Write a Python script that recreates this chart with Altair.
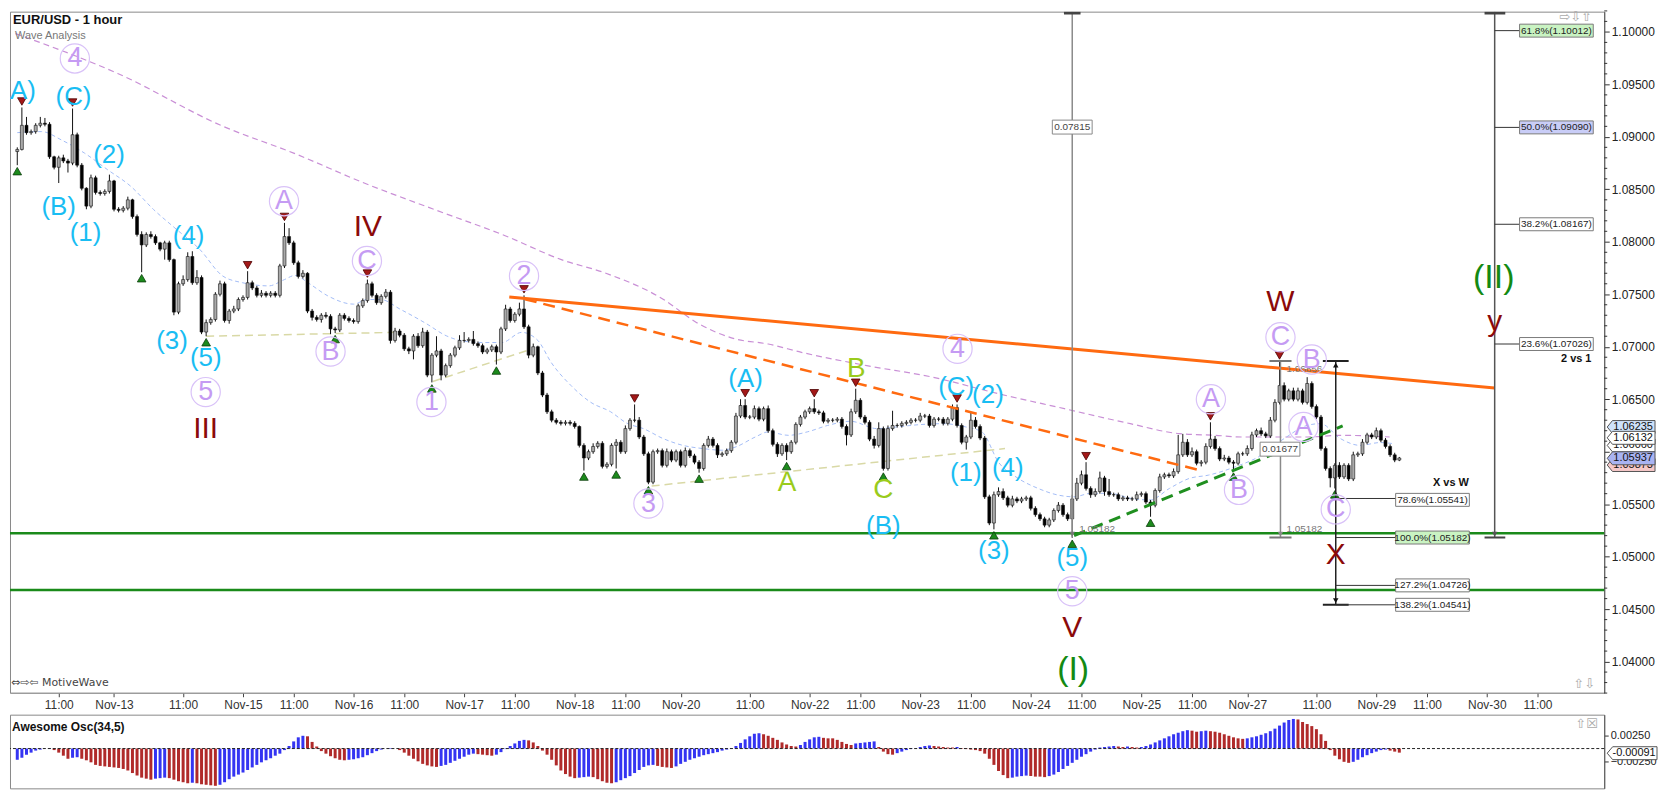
import altair as alt
import pandas as pd

# ---------------- data (prices in pips above 1.0000) ----------------
first_open = 886
close_pips = [
 888,911,904,905,911,913,912,881,871,880,
 877,875,902,873,851,834,861,847,846,848,
 858,831,830,832,840,824,807,797,807,805,
 799,793,799,783,733,760,764,786,761,766,
 714,723,726,750,760,725,734,736,745,747,
 761,756,749,751,749,751,749,777,805,799,
 780,767,770,734,728,726,730,729,717,716,
 730,727,725,724,739,744,760,749,742,748,
 752,706,715,711,698,696,710,701,714,673,
 692,696,673,682,692,699,706,706,707,703,
 701,695,697,700,695,717,736,725,731,736,
 719,692,700,675,654,638,630,628,627,628,
 627,624,606,594,600,605,608,586,588,606,
 609,600,622,630,630,614,598,571,600,601,
 587,600,592,600,587,601,596,590,584,606,
 612,606,597,598,601,609,634,644,633,633,
 641,631,641,620,607,598,606,600,609,626,
 633,638,641,638,637,629,630,630,631,624,
 616,638,649,633,628,612,606,622,584,622,
 625,625,627,628,630,630,634,634,625,631,
 631,627,631,642,625,609,614,630,624,613,
 557,532,559,562,556,549,555,553,555,556,
 546,540,536,530,535,544,549,540,536,555,
 570,578,565,559,562,575,562,559,559,555,
 556,555,555,559,560,552,549,563,576,578,
 577,581,597,609,597,600,589,590,605,612,
 603,593,594,590,589,598,598,603,616,620,
 617,615,630,647,663,650,658,650,658,647,
 665,643,633,603,584,575,587,576,587,574,
 597,598,609,616,614,620,611,605,597,592,
 594]
up_wick = [
 2,17,8,2,2,6,5,2,1,2, 3,2,25,2,2,1,3,2,2,2, 6,1,2,2,3,1,2,3,2,3, 2,1,2,2,1,2,4,4,5,7,
 2,3,2,2,3,2,2,3,2,2, 11,2,2,3,2,2,2,2,13,8, 2,2,3,1,2,2,2,3,2,2, 2,2,2,2,2,2,4,2,2,2,
 3,2,3,2,2,2,2,3,4,2, 2,14,2,2,2,2,5,8,2,8, 2,2,2,2,2,2,4,2,2,6, 13,2,3,1,2,2,2,2,2,2,
 2,2,1,2,2,3,2,2,2,2, 3,2,3,2,15,3,2,2,2,2, 2,3,2,2,2,3,2,2,2,2, 3,2,2,2,2,2,3,6,6,2,
 3,2,2,3,2,2,2,2,2,2, 2,2,2,9,2,2,2,2,2,2, 2,3,11,2,2,2,3,6,2,3, 14,2,2,2,2,2,3,2,2,2,
 2,2,2,3,3,2,2,8,3,2, 2,2,3,4,3,2,3,2,2,2, 2,2,2,2,2,2,3,2,2,4, 5,4,12,2,3,6,2,12,2,2,
 2,2,2,3,2,2,2,2,3,2, 2,3,19,8,3,4,2,2,3,16, 3,2,3,2,2,2,2,3,3,2, 3,2,3,3,23,3,2,3,3,2,
 6,2,2,2,2,2,2,3,2,2, 3,2,3,2,2,3,2,2,2,2, 1]
down_wick = [
 13,1,2,2,2,2,2,2,2,15, 2,9,2,2,2,3,2,2,2,2, 2,2,2,2,2,2,2,26,2,2, 2,2,10,2,3,2,2,2,2,2,
 2,4,2,2,2,2,3,2,2,2, 2,2,2,2,2,2,2,2,2,2, 2,2,2,2,3,2,3,2,5,3, 2,2,2,2,2,2,2,2,2,2,
 2,3,2,2,2,3,8,2,2,2, 7,2,5,2,2,2,2,2,2,2, 2,2,2,2,12,2,2,2,2,2, 2,3,2,2,2,2,2,2,2,2,
 2,2,2,12,2,2,2,2,2,2, 22,2,2,2,2,2,2,2,2,2, 2,2,2,2,2,2,2,2,4,2, 2,2,3,2,2,2,2,2,2,2,
 2,2,2,2,2,3,2,8,2,2, 2,2,2,2,2,2,2,2,2,2, 10,2,2,2,2,2,3,2,2,2, 2,2,2,2,2,2,2,2,2,2,
 2,2,2,2,2,2,7,2,2,2, 2,2,6,2,2,2,2,2,2,2, 2,2,2,2,2,2,2,2,2,18, 2,2,2,3,2,2,4,2,2,2,
 2,2,2,2,2,2,11,2,2,2, 2,2,2,2,2,2,2,3,2,2, 2,2,2,2,7,2,2,2,2,2, 2,2,2,2,2,2,2,2,2,2,
 2,2,2,2,2,9,10,2,2,2, 2,2,2,2,2,2,2,2,2,2, 1]
# Awesome Oscillator, units of 0.0001
ao_vals = [
 -22,-18,-12,-8,-4,-2,0,1,-3,-8, -14,-20,-18,-17,-20,-23,-27,-32,-34,-35,
 -36,-37,-38,-40,-43,-48,-53,-57,-59,-61, -59,-58,-57,-58,-61,-64,-66,-68,-67,-68,
 -70,-71,-72,-73,-71,-66,-60,-55,-51,-47, -42,-37,-32,-27,-23,-19,-14,-10,-3,5,
 14,22,25,24,13,4,-5,-10,-15,-19, -22,-23,-22,-21,-19,-17,-13,-9,-5,-2,
 0,1,0,-3,-8,-14,-20,-25,-30,-33, -35,-36,-34,-32,-28,-24,-20,-16,-12,-10,
 -11,-12,-13,-14,-12,-7,-1,5,10,15, 17,16,12,5,-4,-12,-22,-33,-43,-50,
 -55,-58,-57,-56,-55,-56,-60,-64,-67,-68, -66,-62,-58,-54,-48,-42,-36,-33,-32,-34,
 -36,-37,-38,-35,-30,-26,-22,-19,-16,-13, -11,-9,-7,-4,-2,1,5,11,18,24,
 29,30,28,25,21,17,12,8,5,4, 7,13,18,22,23,21,20,20,17,13,
 9,7,10,11,12,13,14,3,-6,-11, -12,-9,-6,-3,-1,0,3,5,6,5,
 4,3,2,2,3,1,-1,-2,-3,-5, -10,-20,-32,-44,-52,-58,-57,-55,-54,-53,
 -54,-55,-55,-56,-54,-51,-46,-40,-34,-28, -22,-16,-11,-6,-2,2,3,4,5,4,
 3,4,3,2,3,5,8,12,16,20, 24,28,31,34,36,35,33,34,35,34,
 33,31,28,25,22,20,19,20,22,24, 27,30,34,39,45,51,56,58,57,52,
 48,44,38,28,15,-3,-14,-21,-26,-28, -26,-22,-17,-13,-9,-6,-3,-2,-4,-6,
 -8]

tick_idx = [9,21,36,49,60,73,84,97,108,121,132,144,159,172,183,196,207,220,231,244,255,267,282,295,306,319,330]
tick_lbl = ['11:00','Nov-13','11:00','Nov-15','11:00','Nov-16','11:00','Nov-17','11:00','Nov-18','11:00',
            'Nov-20','11:00','Nov-22','11:00','Nov-23','11:00','Nov-24','11:00','Nov-25','11:00','Nov-27',
            '11:00','Nov-29','11:00','Nov-30','11:00']
price_ticks = [1.040,1.045,1.050,1.055,1.060,1.065,1.070,1.075,1.080,1.085,1.090,1.095,1.100]

red_tri = [1,12,50,58,76,110,134,158,173,182,204,232,259,274]
green_tri = [0,27,41,69,90,104,123,130,137,148,167,188,212,229,246,264,286]

# moving averages (bar index, pips)
ma_fast_i = [0,5.3,9.6,14.6,19.6,24.6,29.6,34.6,39.6,44.6,48.9,54.6,58,60.3,63.1,67.4,73,76,78.9,83.1,88.8,93.1,
             97.4,101.6,105.2,109.5,113,115.9,120.2,124.5,128.8,132.4,135.9,140.2,144.5,148.8,153,156,160.2,163,
             167.4,171.6,175.9,180.9,186.6,190.9,195.9,200.9,205.9,209.4,213,217.3,221.6,225.9,229.4,233,237.3,
             241.6,245.9,250.1,254.4,258.6,264.4,269.4,275,280.1,282.9,287.2,291.5,295.8,298.6]
ma_fast_p = [904,905,897,884.5,868.7,853,830.7,811.7,792.8,767.4,761,758,764,768,761,748.5,740.6,745,745,735.8,722,
             710.5,705,704,704,713.7,706,685,663,647,638,627,622,612.5,606,603,601.4,604.6,614,618.8,615.6,619,625,
             629,622,623.6,625.8,626.7,623.6,618.8,590,574.5,565,558.7,557,560.3,560.3,555.6,554,565,574.5,577.7,
             585.6,595,612.5,625.2,626.7,612.5,606,608.7,607.7]
ma_slow_i = [-0.4,21.8,44.7,60,75.3,90.7,105.9,118.1,127.4,140.2,147.4,155.9,163,170.2,184.4,198.7,213,227.3,241.6,
             252.3,260.1,265.8,280.1,287.2,297.9]
ma_slow_p = [998.4,960.4,910,884.5,856,830.5,805.8,783,770.6,745.3,723.2,707.4,702.6,694.7,682,671,655.2,641,626.7,
             617.2,615.6,614,614,615.6,614]

# trend lines (segment, bar index, pips)
khaki_seg = ['k1','k1','k2','k2','k3','k3']
khaki_i = [41,82,90.2,110.6,137.7,214.4]
khaki_p = [710,713.7,666.9,696.3,567.3,603]
orange_i = [106.8,320.7]
orange_p = [747.5,660.7]
orange_dash_i = [110.2,257.3]
orange_dash_p = [745.3,581.6]
green_dash_i = [229.4,287.7]
green_dash_p = [520,624.6]
green_levels = [522.4,468.3]

# measuring tools: segments (i1, i2, p1, p2, colour, width)
seg_i1 = [229,227.2,274.2,271.8,271.8,286.2,283.4,283.4,286.2,286.2,286.2,286.2,320.7,318.5,318.5,320.7,320.7,320.7,320.7]
seg_i2 = [229,230.8,274.2,276.6,276.6,286.2,289.0,289.0,299.4,299.4,299.4,299.4,320.7,323.0,323.0,326.2,326.2,326.2,326.2]
seg_p1 = [518.2,1018.0,518.2,686.4,518.2,454.1,686.4,454.1,555.4,518.2,472.6,454.1,518.2,1018.0,518.2,1001.2,909.0,816.7,702.6]
seg_p2 = [1019.3,1018.0,686.4,686.4,518.2,686.4,686.4,454.1,555.4,518.2,472.6,454.1,1019.3,1018.0,518.2,1001.2,909.0,816.7,702.6]
seg_col = ['#8a8a8a','#444','#8a8a8a','#777','#777','#222','#222','#222','#333','#333','#333','#333','#555','#444','#444',
           '#333','#333','#333','#333']
seg_w = [1.5,3,1.5,2,2,1.5,2,2,1,1,1,1,1.5,3,2,1,1,1,1]

arrow_i = [229,274.2,286.2,286.2,320.7]
arrow_p = [521.5,521.5,682.5,458.0,521.5]
arrow_shape = ['triangle-down','triangle-down','triangle-up','triangle-down','triangle-down']
arrow_col = ['#777','#888','#111','#111','#555']

fib_lbl = ['61.8%(1.10012)','50.0%(1.09090)','38.2%(1.08167)','23.6%(1.07026)']
fib_p = [1.10012,1.09090,1.08167,1.07026]
fib_fill = ['#c9f3c2','#c9cdf7','#ffffff','#ffffff']
xw_lbl = ['78.6%(1.05541)','100.0%(1.05182)','127.2%(1.04726)','138.2%(1.04541)']
xw_p = [1.05541,1.05182,1.04726,1.04541]
xw_fill = ['#ffffff','#c9f3c2','#ffffff','#ffffff']

cur_lbl = ['1.06235','1.06060','1.06132','1.05873','1.05937']
cur_p = [1.06235,1.06060,1.06132,1.05873,1.05937]
cur_fill = ['#cfe2fa','#ffffff','#ffffff','#f6c8c8','#a9b3f2']

# wave labels (text, bar index, pips)
cyan_t = ['(A)','(C)','(2)','(B)','(1)','(4)','(3)','(5)','(A)','(C)','(2)','(1)','(4)','(B)','(3)','(5)']
cyan_i = [0.3,12.2,19.9,9.0,14.8,37.2,33.6,40.9,158.1,203.8,210.7,205.9,215.0,188.0,212.0,229.0]
cyan_p = [943.4,938.3,882.9,833.3,808.6,805.5,705.9,689.0,669.4,661.6,653.7,579.3,584.0,528.7,505.0,498.7]
purple_t = ['4','A','C','2','B','5','1','3','4','5','A','B','C','B','A','C']
purple_i = [12.5,57.9,75.9,110.0,68.0,40.9,89.9,137.0,204.1,229.0,259.1,265.2,274.2,281.0,279.2,286.2]
purple_p = [974.7,838.7,781.8,767.5,695.4,656.8,647.3,550.6,698.0,467.0,649.9,563.6,709.0,687.8,623.6,545.0]
dred_t = ['IV','III','V','W','X','y']
dred_i = [76.1,40.9,229.0,274.2,286.2,320.7]
dred_p = [814.3,622.0,432.3,742.2,501.9,723.2]
green_t = ['(II)','(I)']
green_i = [320.5,229.2]
green_p = [765.0,391.8]
yg_t = ['A','B','C']
yg_i = [167.1,182.1,188.0]
yg_p = [569.8,678.3,563.6]

small_t = ['1.05182','1.06856','1.05182']
small_i = [230.5,275.5,275.5]
small_p = [526.6,679.0,526.6]
bold_t = ['X vs W','2 vs 1']
bold_i = [311.2,338.4]
bold_p = [570.5,688.0]
meas_t = ['0.07815','0.01677']
meas_i = [229.0,274.1]
meas_p = [909.3,602.4]

# ---------------- helpers ----------------
def px(v):
    return 1 + v / 10000.0

W, H, AOH = 1601, 684, 74
FONT = 'Liberation Sans'
xs = alt.Scale(domain=[-0.5, 343.4], nice=False, zero=False)
ys = alt.Scale(domain=[1.03703, 1.10193], nice=False, zero=False)

lbl_js = '[' + ','.join("'%s'" % s for s in tick_lbl) + ']'
idx_js = '[' + ','.join(str(v) for v in tick_idx) + ']'
x_axis = alt.Axis(values=tick_idx, labelExpr=lbl_js + '[indexof(' + idx_js + ', datum.value)]',
                  orient='bottom', grid=False, tickSize=4, tickColor='#444', domainColor='#999',
                  labelFont=FONT, labelFontSize=12, labelColor='#333', labelPadding=3,
                  labelOverlap=False, labelFlush=False, title=None)
y_axis = alt.Axis(values=price_ticks, format='.5f', orient='right', grid=False, tickSize=5,
                  tickColor='#333', domainColor='#555', labelFont=FONT, labelFontSize=12,
                  labelColor='#222', labelPadding=2, labelOverlap=False, title=None)


def X(f='i'):
    return alt.X(f + ':Q', scale=xs, axis=x_axis, title=None)


def Y(f='p'):
    return alt.Y(f + ':Q', scale=ys, axis=y_axis, title=None)


def box_shape(w, h, arrow=False):
    r = h / w
    if arrow:
        return 'M-1,0L-0.78,%.4fH1V%.4fH-0.78Z' % (-r, r)
    return 'M-1,%.4fH1V%.4fH-1Z' % (-r, r)


# candles
n = len(close_pips)
opens = [first_open] + close_pips[:-1]
rows = []
for k in range(n):
    o, c = opens[k], close_pips[k]
    rows.append(dict(i=k, o=px(o), c=px(c), h=px(max(o, c) + up_wick[k]), l=px(min(o, c) - down_wick[k]),
                     fill='#aaaaaa' if c >= o else '#000000'))
cdf = pd.DataFrame(rows)

layers = []
layers.append(alt.Chart(pd.DataFrame({'p': [px(v) for v in green_levels]})).mark_rule(
    color='#1a8a1a', strokeWidth=2.5).encode(y=Y()))
layers.append(alt.Chart(pd.DataFrame({'seg': khaki_seg, 'i': khaki_i, 'p': [px(v) for v in khaki_p]})).mark_line(
    color='#d9d9a6', strokeWidth=1.5, strokeDash=[8, 5]).encode(x=X(), y=Y(), detail='seg:N'))
layers.append(alt.Chart(pd.DataFrame({'i': ma_slow_i, 'p': [px(v) for v in ma_slow_p]})).mark_line(
    color='#c98fd6', strokeWidth=1.2, strokeDash=[6, 4], interpolate='monotone', clip=True).encode(x=X(), y=Y()))
layers.append(alt.Chart(pd.DataFrame({'i': ma_fast_i, 'p': [px(v) for v in ma_fast_p]})).mark_line(
    color='#a3bcf6', strokeWidth=1, strokeDash=[4, 3], interpolate='monotone', clip=True).encode(x=X(), y=Y()))
layers.append(alt.Chart(cdf).mark_rule(color='#111', strokeWidth=1).encode(x=X(), y=Y('l'), y2=alt.Y2('h:Q')))
layers.append(alt.Chart(cdf).mark_bar(size=3, stroke='#111', strokeWidth=0.6).encode(
    x=X(), y=Y('o'), y2=alt.Y2('c:Q'), fill=alt.Fill('fill:N', scale=None)))
layers.append(alt.Chart(pd.DataFrame({'i': orange_i, 'p': [px(v) for v in orange_p]})).mark_line(
    color='#ff6a10', strokeWidth=3).encode(x=X(), y=Y()))
layers.append(alt.Chart(pd.DataFrame({'i': orange_dash_i, 'p': [px(v) for v in orange_dash_p]})).mark_line(
    color='#ff6a10', strokeWidth=2.5, strokeDash=[12, 7]).encode(x=X(), y=Y()))
layers.append(alt.Chart(pd.DataFrame({'i': green_dash_i, 'p': [px(v) for v in green_dash_p]})).mark_line(
    color='#1f8f1f', strokeWidth=3, strokeDash=[12, 7]).encode(x=X(), y=Y()))
layers.append(alt.Chart(cdf[cdf.i.isin(red_tri)]).mark_point(
    shape='triangle-down', filled=True, size=75, color='#a31818', stroke='#4a0000', strokeWidth=0.8,
    opacity=1, yOffset=-6).encode(x=X(), y=Y('h')))
layers.append(alt.Chart(cdf[cdf.i.isin(green_tri)]).mark_point(
    shape='triangle-up', filled=True, size=75, color='#1c8a1c', stroke='#0b3d0b', strokeWidth=0.8,
    opacity=1, yOffset=6).encode(x=X(), y=Y('l')))

sdf = pd.DataFrame({'i1': seg_i1, 'i2': seg_i2, 'p1': [px(v) for v in seg_p1], 'p2': [px(v) for v in seg_p2],
                    'col': seg_col, 'w': seg_w})
layers.append(alt.Chart(sdf).mark_rule(clip=True).encode(
    x=X('i1'), x2=alt.X2('i2:Q'), y=Y('p1'), y2=alt.Y2('p2:Q'),
    color=alt.Color('col:N', scale=None), size=alt.Size('w:Q', scale=None)))
for k in range(len(arrow_i)):
    layers.append(alt.Chart(pd.DataFrame({'i': [arrow_i[k]], 'p': [px(arrow_p[k])]})).mark_point(
        shape=arrow_shape[k], filled=True, size=30, color=arrow_col[k], opacity=1).encode(x=X(), y=Y()))

layers.append(alt.Chart(pd.DataFrame({'t': small_t, 'i': small_i, 'p': [px(v) for v in small_p]})).mark_text(
    font=FONT, fontSize=10, color='#777', align='left', baseline='middle').encode(x=X(), y=Y(), text='t:N'))

# label boxes
mdf = pd.DataFrame({'t': meas_t, 'i': meas_i, 'p': [px(v) for v in meas_p]})
layers.append(alt.Chart(mdf).mark_point(shape=box_shape(40, 14), size=1600, filled=True, color='white',
                                        stroke='#888', strokeWidth=1, opacity=1).encode(x=X(), y=Y()))
layers.append(alt.Chart(mdf).mark_text(font=FONT, fontSize=10, color='#444').encode(x=X(), y=Y(), text='t:N'))
fdf = pd.DataFrame({'t': fib_lbl, 'p': fib_p, 'f': fib_fill, 'i': [334.1] * 4})
xdf = pd.DataFrame({'t': xw_lbl, 'p': xw_p, 'f': xw_fill, 'i': [307.2] * 4})
for d in (fdf, xdf):
    layers.append(alt.Chart(d).mark_point(shape=box_shape(74, 13), size=74 * 74, filled=True, stroke='#7a7a7a',
                                          strokeWidth=1, opacity=1).encode(
        x=X(), y=Y(), fill=alt.Fill('f:N', scale=None)))
    layers.append(alt.Chart(d).mark_text(font=FONT, fontSize=10, color='#222').encode(x=X(), y=Y(), text='t:N'))
layers.append(alt.Chart(pd.DataFrame({'t': bold_t, 'i': bold_i, 'p': [px(v) for v in bold_p]})).mark_text(
    font=FONT, fontSize=11, fontWeight='bold', color='#111').encode(x=X(), y=Y(), text='t:N'))

# wave labels
pdf = pd.DataFrame({'t': purple_t, 'i': purple_i, 'p': [px(v) for v in purple_p]})
layers.append(alt.Chart(pdf).mark_point(shape='circle', filled=False, size=860, color='#d9c2f8',
                                        strokeWidth=1.2, opacity=1, clip=True).encode(x=X(), y=Y()))
layers.append(alt.Chart(pdf).mark_text(font=FONT, fontSize=27, color='#c59bf3', baseline='middle',
                                       clip=True).encode(x=X(), y=Y(), text='t:N'))
for tt, ii, pp, col, fs in ((cyan_t, cyan_i, cyan_p, '#19bdf3', 26), (dred_t, dred_i, dred_p, '#8b0a0a', 30),
                            (green_t, green_i, green_p, '#138a13', 34), (yg_t, yg_i, yg_p, '#9acb1c', 28)):
    layers.append(alt.Chart(pd.DataFrame({'t': tt, 'i': ii, 'p': [px(v) for v in pp]})).mark_text(
        font=FONT, fontSize=fs, color=col, baseline='middle', clip=True).encode(x=X(), y=Y(), text='t:N'))

# fixed texts
def fixed(text, x, y, size, color, weight='normal', align='left', font=FONT):
    return alt.Chart(pd.DataFrame({'t': [text]})).mark_text(
        font=font, fontSize=size, color=color, fontWeight=weight, align=align, baseline='middle').encode(
        x=alt.value(x), y=alt.value(y), text='t:N')

layers.append(fixed('EUR/USD - 1 hour', 3, 8, 13, '#111', 'bold'))
layers.append(fixed('Wave Analysis', 5, 24, 11, '#777'))
layers.append(fixed('\u21d4\u21e8\u21e6 MotiveWave', 1, 674, 11, '#444', font='DejaVu Sans'))
layers.append(fixed('\u21e8\u21e9\u21e7', 1556, 5, 13, '#aaa', font='DejaVu Sans'))
layers.append(fixed('\u21e7\u21e9', 1570, 675, 13, '#aaa', font='DejaVu Sans'))

# minor ticks and current price boxes on the price axis
minor = [round(1.037 + k * 0.001, 3) for k in range(66)]
minor = [m for m in minor if round(m * 1000) % 5 != 0]
layers.append(alt.Chart(pd.DataFrame({'p': minor})).mark_rule(color='#333', strokeWidth=1).encode(
    x=alt.value(W), x2=alt.value(W + 3), y=Y()))
cdf2 = pd.DataFrame({'t': cur_lbl, 'p': cur_p, 'f': cur_fill})
for k in range(len(cdf2)):
    one = cdf2.iloc[[k]]
    layers.append(alt.Chart(one).mark_point(shape=box_shape(48, 13, arrow=True), size=48 * 48, filled=True,
                                            stroke='#555', strokeWidth=1, opacity=1).encode(
        x=alt.value(W + 27), y=Y(), fill=alt.Fill('f:N', scale=None)))
    layers.append(alt.Chart(one).mark_text(font=FONT, fontSize=11, color='#111').encode(
        x=alt.value(W + 29), y=Y(), text='t:N'))

main = alt.layer(*layers).properties(width=W, height=H)

# ---------------- Awesome oscillator panel ----------------
ao_cols = []
prev = None
for k, v in enumerate(ao_vals):
    if k == 0:
        col = '#3434f2'
    elif v > ao_vals[k - 1]:
        col = '#3434f2'
    elif v < ao_vals[k - 1]:
        col = '#b02a2a'
    else:
        col = prev
    ao_cols.append(col)
    prev = col
adf = pd.DataFrame({'i': list(range(len(ao_vals))), 'v': [v / 10000.0 for v in ao_vals], 'z': 0.0, 'col': ao_cols})
aos = alt.Scale(domain=[-0.0078, 0.00664], nice=False, zero=False)
ao_axis = alt.Axis(values=[0.0025, -0.0025], format='.5f', orient='right', grid=False, tickSize=4,
                   tickColor='#333', domainColor='#555', labelFont=FONT, labelFontSize=11, labelColor='#222',
                   labelPadding=2, title=None)
AX = alt.X('i:Q', scale=xs, axis=None)
ao_layers = [
    alt.Chart(adf).mark_bar(size=3).encode(x=AX, y=alt.Y('v:Q', scale=aos, axis=ao_axis), y2=alt.Y2('z:Q'),
                                           color=alt.Color('col:N', scale=None)),
    alt.Chart(pd.DataFrame({'z': [0.0]})).mark_rule(color='#222', strokeDash=[3, 2], strokeWidth=1).encode(
        y=alt.Y('z:Q', scale=aos, axis=ao_axis)),
    alt.Chart(pd.DataFrame({'t': ['-0.00091'], 'v': [-0.00091]})).mark_point(
        shape=box_shape(50, 13, arrow=True), size=2500, filled=True, color='white', stroke='#555',
        strokeWidth=1, opacity=1).encode(x=alt.value(W + 28), y=alt.Y('v:Q', scale=aos, axis=ao_axis)),
    alt.Chart(pd.DataFrame({'t': ['-0.00091'], 'v': [-0.00091]})).mark_text(
        font=FONT, fontSize=11, color='#111').encode(x=alt.value(W + 30), y=alt.Y('v:Q', scale=aos, axis=ao_axis),
                                                     text='t:N'),
    fixed('Awesome Osc(34,5)', 2, 12, 12, '#111', 'bold'),
    fixed('\u21e7\u2612', 1572, 9, 13, '#aaa', font='DejaVu Sans'),
]
ao = alt.layer(*ao_layers).properties(width=W, height=AOH)

chart = alt.vconcat(main, ao, spacing=2).properties(padding=0, background='white').configure_view(
    stroke='#888', strokeWidth=1)
chart.save('out.html', embed_options={'renderer': 'svg', 'actions': False})
